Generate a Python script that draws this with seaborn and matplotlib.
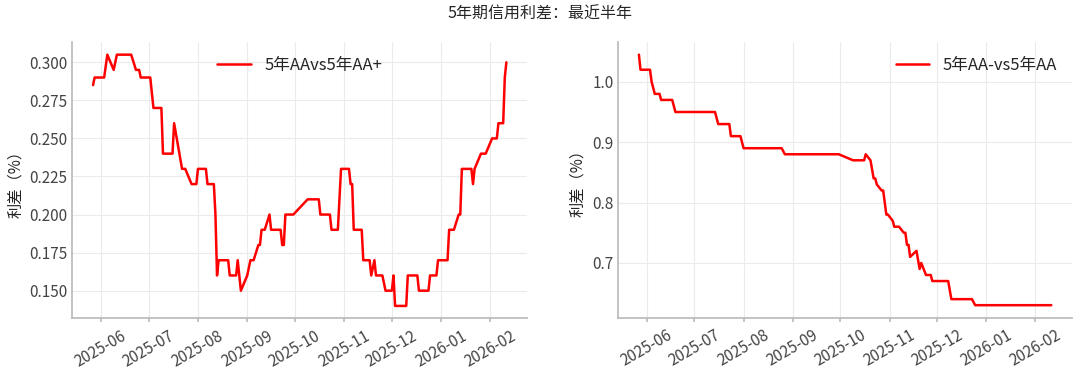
import pandas as pd
import seaborn as sns
import matplotlib.pyplot as plt
import matplotlib.dates as mdates

# 5年AA vs 5年AA+ (change points)
aa_dates = [
    "2025-05-27", "2025-05-28", "2025-06-03", "2025-06-05", "2025-06-09", "2025-06-11",
    "2025-06-20", "2025-06-23", "2025-06-25", "2025-06-26", "2025-07-02", "2025-07-04",
    "2025-07-09", "2025-07-10", "2025-07-16", "2025-07-17", "2025-07-22", "2025-07-24",
    "2025-07-28", "2025-07-31", "2025-08-01", "2025-08-06", "2025-08-07", "2025-08-11",
    "2025-08-12", "2025-08-13", "2025-08-14", "2025-08-20", "2025-08-21", "2025-08-25",
    "2025-08-26", "2025-08-28", "2025-09-01", "2025-09-03", "2025-09-05", "2025-09-08",
    "2025-09-09", "2025-09-10", "2025-09-12", "2025-09-15", "2025-09-16", "2025-09-22",
    "2025-09-23", "2025-09-24", "2025-09-25", "2025-09-30", "2025-10-09", "2025-10-16",
    "2025-10-17", "2025-10-23", "2025-10-24", "2025-10-28", "2025-10-30", "2025-11-04",
    "2025-11-05", "2025-11-06", "2025-11-07", "2025-11-12", "2025-11-13", "2025-11-17",
    "2025-11-18", "2025-11-20", "2025-11-21", "2025-11-25", "2025-11-27", "2025-12-01",
    "2025-12-02", "2025-12-03", "2025-12-10", "2025-12-11", "2025-12-17", "2025-12-18",
    "2025-12-24", "2025-12-25", "2025-12-29", "2025-12-30", "2026-01-05", "2026-01-06",
    "2026-01-09", "2026-01-12", "2026-01-13", "2026-01-14", "2026-01-20", "2026-01-21",
    "2026-01-22", "2026-01-26", "2026-01-29", "2026-02-02", "2026-02-05", "2026-02-06",
    "2026-02-09", "2026-02-10", "2026-02-11",
]
aa_spread = [
    0.285, 0.290, 0.290, 0.305, 0.295, 0.305,
    0.305, 0.295, 0.295, 0.290, 0.290, 0.270,
    0.270, 0.240, 0.240, 0.260, 0.230, 0.230,
    0.220, 0.220, 0.230, 0.230, 0.220, 0.220,
    0.200, 0.160, 0.170, 0.170, 0.160, 0.160,
    0.170, 0.150, 0.160, 0.170, 0.170, 0.180,
    0.180, 0.190, 0.190, 0.200, 0.190, 0.190,
    0.180, 0.180, 0.200, 0.200, 0.210, 0.210,
    0.200, 0.200, 0.190, 0.190, 0.230, 0.230,
    0.220, 0.220, 0.190, 0.190, 0.170, 0.170,
    0.160, 0.170, 0.160, 0.160, 0.150, 0.150,
    0.160, 0.140, 0.140, 0.160, 0.160, 0.150,
    0.150, 0.160, 0.160, 0.170, 0.170, 0.190,
    0.190, 0.200, 0.200, 0.230, 0.230, 0.220,
    0.230, 0.240, 0.240, 0.250, 0.250, 0.260,
    0.260, 0.290, 0.300,
]

# 5年AA- vs 5年AA
aam_dates = [
    "2025-05-27", "2025-05-28", "2025-06-03", "2025-06-04", "2025-06-06", "2025-06-09",
    "2025-06-10", "2025-06-17", "2025-06-19", "2025-07-14", "2025-07-16", "2025-07-23",
    "2025-07-24", "2025-07-30", "2025-08-01", "2025-08-25", "2025-08-27", "2025-09-30",
    "2025-10-09", "2025-10-16", "2025-10-17", "2025-10-20", "2025-10-22", "2025-10-23",
    "2025-10-24", "2025-10-27", "2025-10-28", "2025-10-30", "2025-10-31", "2025-11-03",
    "2025-11-04", "2025-11-07", "2025-11-10", "2025-11-11", "2025-11-12", "2025-11-13",
    "2025-11-14", "2025-11-18", "2025-11-20", "2025-11-21", "2025-11-24", "2025-11-27",
    "2025-11-28", "2025-12-08", "2025-12-10", "2025-12-23", "2025-12-25", "2026-02-11",
]
aam_spread = [
    1.045, 1.020, 1.020, 1.000, 0.980, 0.980,
    0.970, 0.970, 0.950, 0.950, 0.930, 0.930,
    0.910, 0.910, 0.890, 0.890, 0.880, 0.880,
    0.870, 0.870, 0.880, 0.870, 0.840, 0.840,
    0.830, 0.820, 0.820, 0.780, 0.780, 0.770,
    0.760, 0.760, 0.750, 0.750, 0.730, 0.730,
    0.710, 0.720, 0.690, 0.700, 0.680, 0.680,
    0.670, 0.670, 0.640, 0.640, 0.630, 0.630,
]

series = [
    (aa_dates, aa_spread, "5年AAvs5年AA+", "upper center"),
    (aam_dates, aam_spread, "5年AA-vs5年AA", "upper right"),
]

sns.set_theme(style="ticks", rc={
    "axes.grid": True,
    "grid.color": "#ebebeb",
    "grid.linewidth": 0.8,
    "axes.edgecolor": "#bbbbbb",
    "xtick.color": "#bbbbbb",
    "ytick.color": "#bbbbbb",
    "xtick.labelcolor": "#444444",
    "ytick.labelcolor": "#444444",
})
plt.rcParams["font.family"] = ["Noto Sans CJK SC", "DejaVu Sans"]
plt.rcParams["axes.unicode_minus"] = False

fig = plt.figure(figsize=(10.8, 3.76), dpi=100)
axes = [fig.add_axes([0.067, 0.153, 0.421, 0.735]),
        fig.add_axes([0.5725, 0.155, 0.420, 0.733])]

for ax, (dates, values, name, loc) in zip(axes, series):
    df = pd.DataFrame({"date": pd.to_datetime(dates), "spread": values})
    sns.lineplot(data=df, x="date", y="spread", color="red", linewidth=1.8,
                 label=name, ax=ax)
    ax.xaxis.set_major_locator(mdates.MonthLocator())
    ax.xaxis.set_major_formatter(mdates.DateFormatter("%Y-%m"))
    ax.tick_params(axis="x", labelsize=11, rotation=30, length=3)
    ax.tick_params(axis="y", labelsize=11, length=0)
    ax.set_xlabel("")
    ax.set_ylabel("利差（%）", fontsize=11, color="#222222")
    ax.legend(loc=loc, frameon=False, fontsize=12)
    sns.despine(ax=ax)

axes[0].yaxis.set_major_formatter(plt.FormatStrFormatter("%.3f"))

fig.suptitle("5年期信用利差：最近半年", fontsize=11.5, y=0.985)
fig.savefig("out.png", dpi=100)
